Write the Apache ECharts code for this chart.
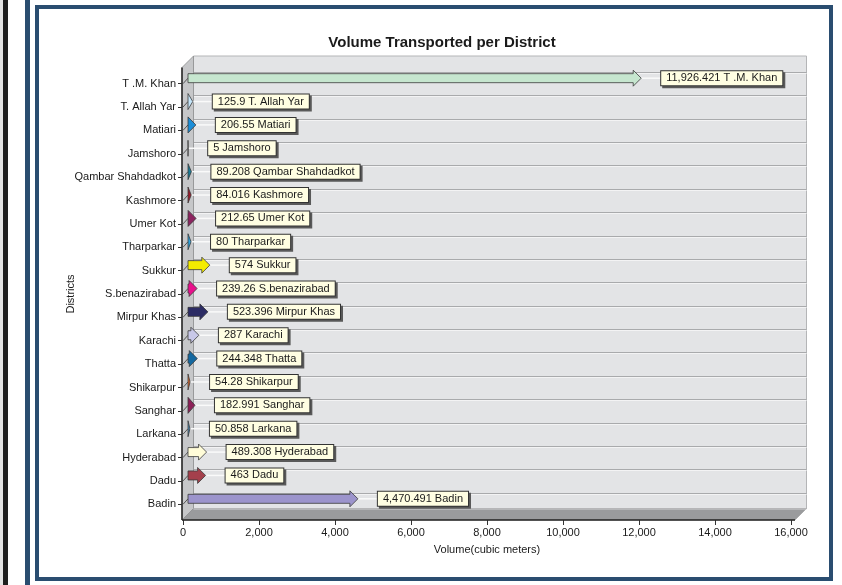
<!DOCTYPE html>
<html>
<head>
<meta charset="utf-8">
<script src="https://cdn.jsdelivr.net/npm/echarts@6/dist/echarts.min.js"></script>
<style>
  html, body { margin: 0; padding: 0; background: #ffffff; }
  #wrap { position: relative; width: 842px; height: 585px; overflow: hidden; background: #fff; }
  .deco { position: absolute; }
  #chart { position: absolute; left: 0; top: 0; width: 842px; height: 585px; }
</style>
</head>
<body>
<div id="wrap">
  <div class="deco" style="left:0;top:0;width:3px;height:585px;background:#e4e4e4;"></div>
  <div class="deco" style="left:3px;top:0;width:5px;height:585px;background:#1f1f1f;"></div>
  <div class="deco" style="left:25px;top:0;width:5px;height:585px;background:#2a4d70;"></div>
  <div class="deco" style="left:35px;top:5px;width:790px;height:568px;border:4px solid #2a4d70;"></div>
  <div id="chart"></div>
</div>
<script>
// ---- data ----
const categories = ["T .M. Khan", "T. Allah Yar", "Matiari", "Jamshoro", "Qambar Shahdadkot", "Kashmore",
  "Umer Kot", "Tharparkar", "Sukkur", "S.benazirabad", "Mirpur Khas", "Karachi", "Thatta", "Shikarpur",
  "Sanghar", "Larkana", "Hyderabad", "Dadu", "Badin"];
const values = [11926.421, 125.9, 206.55, 5, 89.208, 84.016, 212.65, 80, 574, 239.26, 523.396, 287,
  244.348, 54.28, 182.991, 50.858, 489.308, 463, 4470.491];
const colors = ["#c6e6cf", "#c4e4f8", "#1c8ed8", "#e8e8e8", "#187c98", "#9c1c2c", "#8c2460", "#2ca4e0",
  "#f4ec00", "#e8108c", "#2c2c64", "#c8c8e8", "#1468a0", "#e86c2c", "#8c2058", "#4c8cb8", "#fffcd8",
  "#a4404c", "#9c94cc"];
const xTicks = [0, 2000, 4000, 6000, 8000, 10000, 12000, 14000, 16000];

const X_MIN = xTicks[0], X_MAX = xTicks[xTicks.length - 1], X_STEP = xTicks[1] - xTicks[0];
const FONT = '"Liberation Sans", Arial, sans-serif';
const fmt = v => v.toLocaleString('en-US', { maximumFractionDigits: 3 });

const chart = echarts.init(document.getElementById('chart'), null, { renderer: 'canvas' });

function frameRender(params, api) {
  const n = categories.length;
  const band = api.size([0, 1])[1];
  const cTop = api.coord([X_MIN, 0]);
  const cBot = api.coord([X_MAX, n - 1]);
  const FL = cTop[0] - 1, FR = cBot[0] + 4;
  const yTop = cTop[1] - band / 2, yBot = cBot[1] + band / 2;
  const FT = yTop - 4.5, FB = yBot + 4;
  const dx = 11.5, dy = -11.5;
  const kids = [];
  kids.push({ type: 'rect', shape: { x: FL + dx, y: FT + dy, width: FR - FL, height: FB - FT },
    style: { fill: '#e3e4e6', stroke: '#b4b5b7', lineWidth: 1 } });
  for (let k = 0; k < n; k++) {
    const y = Math.round(yTop + k * band) + 0.5;
    if (y > FB + dy) continue;
    kids.push({ type: 'line', shape: { x1: FL + dx, y1: y, x2: FR + dx, y2: y },
      style: { stroke: '#a9aaac', lineWidth: 1 } });
    kids.push({ type: 'line', shape: { x1: FL + dx, y1: y + 1, x2: FR + dx, y2: y + 1 },
      style: { stroke: '#f3f3f4', lineWidth: 1 } });
  }
  kids.push({ type: 'polygon', shape: { points: [[FL, FT], [FL + dx, FT + dy], [FL + dx, FB + dy], [FL, FB]] },
    style: { fill: '#c6c7c9', stroke: '#8e8f91', lineWidth: 0.8 } });
  kids.push({ type: 'polygon', shape: { points: [[FL, FB], [FL + dx, FB + dy], [FR + dx, FB + dy], [FR, FB]] },
    style: { fill: '#9a9b9d', stroke: '#8a8b8d', lineWidth: 0.5 } });
  kids.push({ type: 'line', shape: { x1: FL + dx, y1: FB + dy + 0.5, x2: FR + dx, y2: FB + dy + 0.5 },
    style: { stroke: '#d2d3d5', lineWidth: 1 } });
  kids.push({ type: 'line', shape: { x1: FL, y1: FT, x2: FL, y2: FB },
    style: { stroke: '#222', lineWidth: 1.5 } });
  kids.push({ type: 'line', shape: { x1: FL, y1: FB, x2: FR, y2: FB },
    style: { stroke: '#222', lineWidth: 1.5 } });
  return { type: 'group', children: kids };
}

function arrowRender(params, api) {
  const v = api.value(0), i = api.value(1);
  const c0 = api.coord([X_MIN, i]);
  const c1 = api.coord([v, i]);
  const off = 5;
  const x0 = c0[0] + off, x1 = c1[0] + off;
  const yc = c0[1] - 5.5;
  const L = x1 - x0;
  const bh = 4.5, hh = 8, hl = 8;
  let pts;
  if (L >= hl) {
    pts = [[x0, yc - bh], [x1 - hl, yc - bh], [x1 - hl, yc - hh], [x1, yc], [x1 - hl, yc + hh], [x1 - hl, yc + bh], [x0, yc + bh]];
  } else {
    pts = [[x0, yc - hh], [x1, yc], [x0, yc + hh]];
  }
  const label = fmt(v) + ' ' + categories[i];
  const lx = x1 + 20;
  const kids = [
    { type: 'line', shape: { x1: c0[0], y1: c0[1], x2: x0, y2: yc }, style: { stroke: '#555', lineWidth: 1 } },
    { type: 'line', shape: { x1: x1, y1: yc, x2: lx, y2: yc }, style: { stroke: '#fafafa', lineWidth: 1.5 } },
    { type: 'polygon', shape: { points: pts }, style: { fill: api.visual('color'), stroke: '#3a3a3a', lineWidth: 0.8 } },
    { type: 'text', style: { text: label, x: lx + 2, y: yc + 2, align: 'left', verticalAlign: 'middle',
        font: '11px ' + FONT, lineHeight: 12, fill: 'rgba(0,0,0,0)', backgroundColor: '#5a5a5a', padding: [1, 5, 1, 5],
        borderColor: '#5a5a5a', borderWidth: 1 } },
    { type: 'text', style: { text: label, x: lx, y: yc, align: 'left', verticalAlign: 'middle',
        font: '11px ' + FONT, lineHeight: 12, fill: '#1a1a1a', backgroundColor: '#fffee2', padding: [1, 5, 1, 5],
        borderColor: '#333', borderWidth: 1 } }
  ];
  return { type: 'group', children: kids };
}

chart.setOption({
  animation: false,
  backgroundColor: 'transparent',
  title: {
    text: 'Volume Transported per District',
    left: 437, top: 30, textAlign: 'center',
    textStyle: { fontFamily: FONT, fontSize: 15, fontWeight: 'bold', color: '#1a1a1a' }
  },
  grid: { left: 183, right: 51, top: 72, bottom: 69, containLabel: false },
  xAxis: {
    type: 'value', min: X_MIN, max: X_MAX, interval: X_STEP, offset: 4,
    name: 'Volume(cubic meters)', nameLocation: 'middle', nameGap: 24,
    nameTextStyle: { fontFamily: FONT, fontSize: 11, color: '#1a1a1a' },
    axisLine: { show: false },
    axisTick: { show: true, length: 5, lineStyle: { color: '#333' } },
    axisLabel: { fontFamily: FONT, fontSize: 11, color: '#1a1a1a', margin: 7, formatter: v => fmt(v) },
    splitLine: { show: false }
  },
  yAxis: {
    type: 'category', data: categories, inverse: true,
    name: 'Districts', nameLocation: 'middle', nameGap: 107, nameRotate: 90, nameMoveOverlap: false,
    nameTextStyle: { fontFamily: FONT, fontSize: 11, color: '#1a1a1a' },
    axisLine: { show: false },
    axisTick: { show: true, alignWithLabel: true, length: 5, lineStyle: { color: '#333' } },
    axisLabel: { fontFamily: FONT, fontSize: 11, color: '#1a1a1a', margin: 7 },
    splitLine: { show: false }
  },
  series: [
    { type: 'custom', name: 'frame', silent: true, z: 1, clip: false,
      renderItem: frameRender, data: [[X_MIN, 0]], encode: { x: 0, y: 1 } },
    { type: 'custom', name: 'Volume', z: 3, clip: false,
      renderItem: arrowRender,
      data: values.map((v, i) => ({ value: [v, i], itemStyle: { color: colors[i] } })),
      encode: { x: 0, y: 1 } }
  ]
});
</script>
</body>
</html>
